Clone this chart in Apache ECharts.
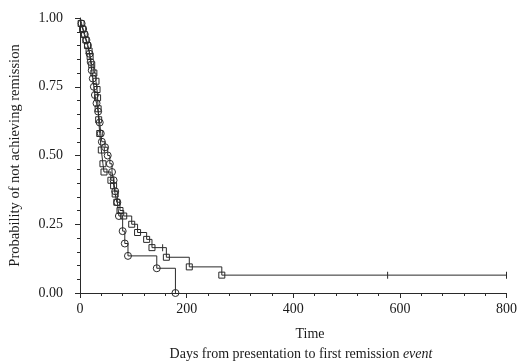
<!DOCTYPE html>
<html>
<head>
<meta charset="utf-8">
<script src="https://cdn.jsdelivr.net/npm/echarts@6/dist/echarts.min.js"></script>
<style>
html, body { margin: 0; background: #fff; }
#main { width: 520px; height: 363px; }
</style>
</head>
<body>
<div id="main"></div>
<script>
// Kaplan-Meier curves (days, probability)
var circleDays = [0, 3, 6, 9, 12, 15, 18, 20, 22, 24, 26, 28, 31, 34, 37, 39, 41, 47, 52, 56, 60, 63, 66, 70, 73, 80, 84, 90, 144, 179];
var circleSurv = [1, 0.98, 0.96, 0.94, 0.92, 0.90, 0.87, 0.84, 0.81, 0.78, 0.75, 0.72, 0.69, 0.66, 0.62, 0.58, 0.55, 0.53, 0.50, 0.47, 0.44, 0.41, 0.37, 0.33, 0.28, 0.225, 0.18, 0.135, 0.09, 0];

var squareDays = [0, 2, 5, 8, 11, 14, 17, 19, 22, 26, 30, 32, 33, 34, 35, 37, 40, 43, 45, 58, 63, 66, 69, 75, 82, 97, 108, 125, 135, 162, 205, 266];
var squareSurv = [1, 0.98, 0.96, 0.94, 0.92, 0.90, 0.88, 0.86, 0.83, 0.80, 0.77, 0.74, 0.71, 0.67, 0.63, 0.58, 0.52, 0.47, 0.44, 0.41, 0.39, 0.36, 0.33, 0.30, 0.28, 0.25, 0.22, 0.195, 0.165, 0.13, 0.095, 0.065];

// censored observations (vertical ticks)
var squareCensorDays = [155, 577, 800];
var squareCensorSurv = [0.165, 0.065, 0.065];

var xTicks = [0, 200, 400, 600, 800];
var yTicks = [0, 0.25, 0.5, 0.75, 1];

var ink = '#2a2a2a';
var txt = '#1a1a1a';
var serif = '"Liberation Serif", "DejaVu Serif", serif';

function kmData(days, surv, cDays, cSurv) {
    var pts = [];
    for (var i = 0; i < days.length; i++) {
        var p = { value: [days[i], surv[i]] };
        if (i === 0) p.symbol = 'none';
        pts.push(p);
    }
    if (cDays) {
        for (var j = 0; j < cDays.length; j++) {
            pts.push({
                value: [cDays[j], cSurv[j]],
                symbol: 'rect',
                symbolSize: [1, 7],
                itemStyle: { color: ink, borderWidth: 0 }
            });
        }
    }
    pts.sort(function(a, b) { return a.value[0] - b.value[0]; });
    return pts;
}

var chart = echarts.init(document.getElementById('main'));

var option = {
    animation: false,
    grid: { left: 80, right: 12, top: 18, bottom: 70 },
    xAxis: {
        type: 'value',
        min: xTicks[0],
        max: xTicks[xTicks.length - 1],
        interval: 200,
        splitLine: { show: false },
        axisLine: { lineStyle: { color: ink, width: 1 } },
        axisTick: { length: 5, lineStyle: { color: ink } },
        minorTick: { show: true, splitNumber: 5, length: 3, lineStyle: { color: ink } },
        axisLabel: { margin: 9, color: txt, fontFamily: serif, fontSize: 14 }
    },
    yAxis: {
        type: 'value',
        min: yTicks[0],
        max: yTicks[yTicks.length - 1],
        interval: 0.25,
        splitLine: { show: false },
        axisLine: { show: true, lineStyle: { color: ink, width: 1 } },
        axisTick: { show: true, length: 5, lineStyle: { color: ink } },
        minorTick: { show: true, splitNumber: 5, length: 3, lineStyle: { color: ink } },
        axisLabel: {
            margin: 17, color: txt, fontFamily: serif, fontSize: 14,
            formatter: function(v) { return v.toFixed(2); }
        },
        name: 'Probability of not achieving remission',
        nameLocation: 'middle',
        nameGap: 57,
        nameTextStyle: { color: txt, fontFamily: serif, fontSize: 14.5 }
    },
    graphic: [
        {
            type: 'text',
            style: {
                text: 'Time', x: 310, y: 334,
                align: 'center', verticalAlign: 'middle',
                fontFamily: serif, fontSize: 14, fill: txt
            }
        },
        {
            type: 'text',
            style: {
                text: 'Days from presentation to first remission {i|event}', x: 301, y: 354,
                align: 'center', verticalAlign: 'middle',
                fontFamily: serif, fontSize: 14, fill: txt,
                rich: { i: { fontStyle: 'italic', fontFamily: serif, fontSize: 14, fill: txt } }
            }
        }
    ],
    series: [
        {
            type: 'line',
            step: 'end',
            clip: false,
            symbol: 'circle',
            symbolSize: 7,
            itemStyle: { color: 'rgba(0,0,0,0)', borderColor: ink, borderWidth: 1 },
            lineStyle: { color: ink, width: 1 },
            data: kmData(circleDays, circleSurv)
        },
        {
            type: 'line',
            step: 'end',
            clip: false,
            symbol: 'rect',
            symbolSize: 6,
            itemStyle: { color: 'rgba(0,0,0,0)', borderColor: ink, borderWidth: 1 },
            lineStyle: { color: ink, width: 1 },
            data: kmData(squareDays, squareSurv, squareCensorDays, squareCensorSurv)
        }
    ]
};

chart.setOption(option);
</script>
</body>
</html>
